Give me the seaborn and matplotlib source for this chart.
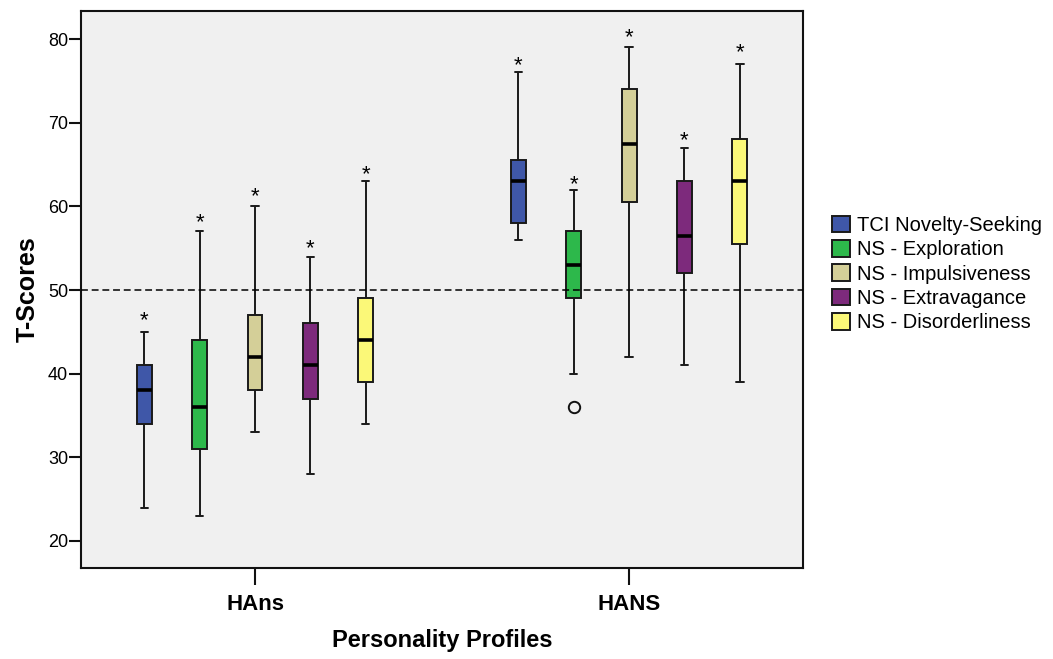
import numpy as np
import pandas as pd
import matplotlib
matplotlib.use("Agg")
import matplotlib.pyplot as plt
import seaborn as sns

# Profiles on the x axis and the five novelty-seeking scales within each
profiles = ["HAns", "HANS"]
scales = ["TCI Novelty-Seeking", "NS - Exploration", "NS - Impulsiveness",
          "NS - Extravagance", "NS - Disorderliness"]
colors = ["#3F57A8", "#2DB84B", "#D4CF98", "#7D2A7C", "#FBF878"]

# Box summaries, profile-major (HAns scales first, then HANS scales)
whisker_low = [24, 23, 33, 28, 34, 56, 40, 42, 41, 39]
quartile_1 = [34, 31, 38, 37, 39, 58, 49, 60.5, 52, 55.5]
medians = [38, 36, 42, 41, 44, 63, 53, 67.5, 56.5, 63]
quartile_3 = [41, 44, 47, 46, 49, 65.5, 57, 74, 63, 68]
whisker_high = [45, 57, 60, 54, 63, 76, 62, 79, 67, 77]

# Significance asterisks above each box
star_y = [46.8, 58.6, 61.7, 55.5, 64.3, 77.3, 63.1, 80.7, 68.3, 78.9]

# Single outlying case (HANS, NS - Exploration)
outlier_profile = ["HANS"]
outlier_scale = ["NS - Exploration"]
outlier_value = [36]

reference_line = 50

rows = []
k = 0
for p in profiles:
    for s in scales:
        for v in (whisker_low[k], quartile_1[k], medians[k], quartile_3[k], whisker_high[k]):
            rows.append({"Profile": p, "Scale": s, "T": v})
        k += 1
df = pd.DataFrame(rows)

sns.set_theme(style="ticks")
plt.rcParams["font.family"] = ["Liberation Sans", "DejaVu Sans"]
plt.rcParams["text.color"] = "black"
plt.rcParams["axes.labelcolor"] = "black"

fig = plt.figure(figsize=(10.53, 6.59), dpi=100)
W, H = 1053, 659
ax = fig.add_axes([80.7 / W, 1 - 568 / H, (803 - 80.7) / W, (568 - 11) / H])
ax.set_facecolor("#F0F0F0")

box_width = 0.74
box_gap = 0.73
sns.boxplot(data=df, x="Profile", y="T", hue="Scale", order=profiles,
            hue_order=scales, palette=colors, saturation=1,
            width=box_width, gap=box_gap, whis=(0, 100), showfliers=False,
            linewidth=1.4, linecolor="#1a1a1a",
            medianprops=dict(color="black", linewidth=2.6),
            ax=ax)

ax.axhline(reference_line, color="black", lw=1.1, ls=(0, (4.5, 2.5)), zorder=10)

n = len(scales)
def dodge_x(profile, scale):
    i = scales.index(scale)
    return profiles.index(profile) + box_width * ((i + 0.5) / n - 0.5)

k = 0
for p in profiles:
    for s in scales:
        ax.annotate("*", xy=(dodge_x(p, s), star_y[k]), xytext=(0, -7),
                    textcoords="offset points", ha="center", va="baseline",
                    fontsize=16, color="black", zorder=11)
        k += 1

for p, s, v in zip(outlier_profile, outlier_scale, outlier_value):
    ax.plot([dodge_x(p, s)], [v], marker="o", ms=8.2, mfc="none",
            mec="#111111", mew=1.4, zorder=11)

ax.set_xlim(-0.466, 1.465)
ax.set_ylim(16.77, 83.35)
ax.set_yticks([20, 30, 40, 50, 60, 70, 80])
ax.tick_params(axis="y", length=8.5, width=1.5, pad=0.5, labelsize=13,
               color="#111111", labelcolor="black")
ax.tick_params(axis="x", length=12, width=1.5, pad=7, labelsize=16,
               color="#111111", labelcolor="black")
for lab in ax.get_xticklabels():
    lab.set_fontweight("bold")
for side in ["left", "bottom", "right", "top"]:
    ax.spines[side].set_visible(True)
    ax.spines[side].set_linewidth(1.5)
    ax.spines[side].set_color("#111111")

ax.set_xlabel("Personality Profiles", fontsize=17, fontweight="bold", labelpad=10)
ax.set_ylabel("T-Scores", fontsize=18, fontweight="bold", labelpad=6)

sns.move_legend(ax, "center left", bbox_to_anchor=(832 / W, 1 - 274 / H),
                bbox_transform=fig.transFigure, frameon=False, title=None,
                fontsize=14.5, handlelength=0.9, handleheight=0.9,
                handletextpad=0.35, labelspacing=0.25, borderpad=0,
                borderaxespad=0, labelcolor="black")

fig.savefig("out.png", dpi=100)
